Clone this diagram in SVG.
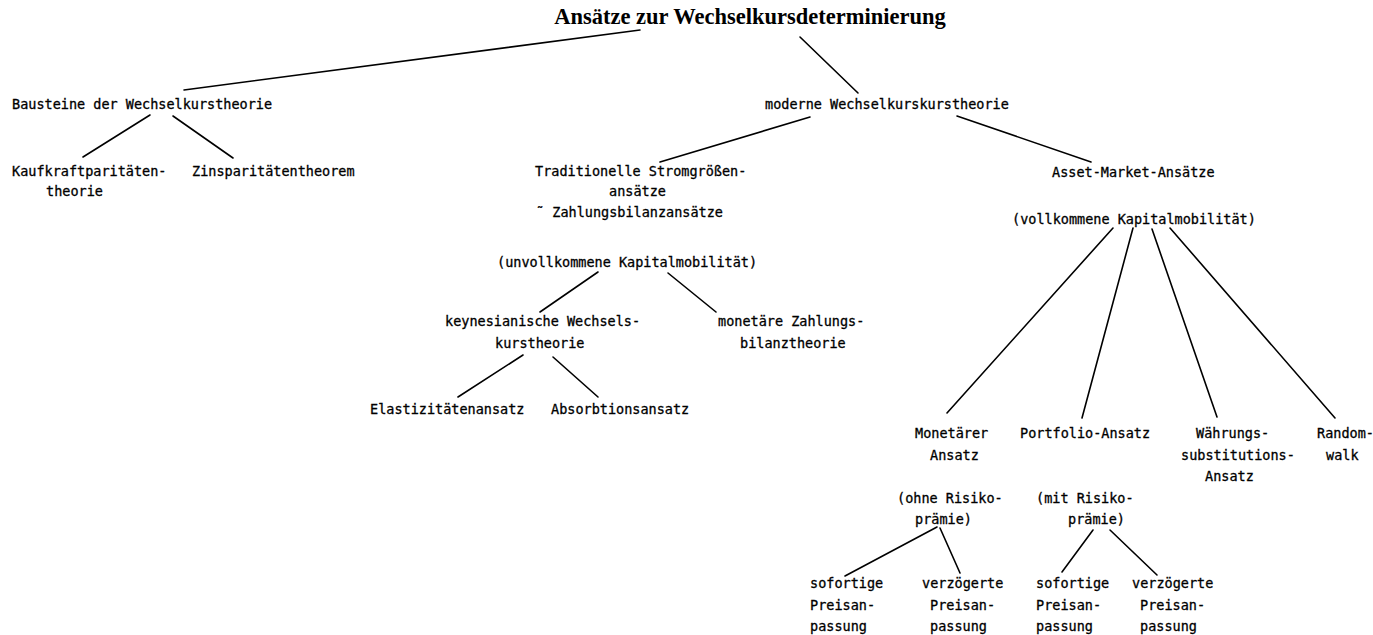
<svg xmlns="http://www.w3.org/2000/svg" width="1373" height="635" viewBox="0 0 1373 635">
<style>
.t{font-family:"DejaVu Sans Mono","Liberation Mono",monospace;font-size:13.5px;fill:#000;stroke:#000;stroke-width:0.3}
.title{font-family:"Liberation Serif","Times New Roman",serif;font-weight:bold;font-size:22.5px;fill:#000}
.c line{stroke:#000;stroke-width:1.6;stroke-linecap:round}
</style>
<rect width="1373" height="635" fill="#fff"/>
<g id="connectors" class="c">
<line x1="640" y1="30" x2="184" y2="90"/>
<line x1="800" y1="37" x2="858" y2="93"/>
<line x1="810" y1="117" x2="660" y2="162"/>
<line x1="957" y1="116" x2="1091" y2="162"/>
<line x1="150" y1="115" x2="83" y2="157"/>
<line x1="173" y1="116" x2="233" y2="158"/>
<line x1="598" y1="272" x2="540" y2="312"/>
<line x1="668" y1="273" x2="716" y2="312"/>
<line x1="523" y1="355" x2="458" y2="397"/>
<line x1="553" y1="357" x2="598" y2="397"/>
<line x1="1113" y1="228" x2="947" y2="413"/>
<line x1="1133" y1="228" x2="1082" y2="418"/>
<line x1="1152" y1="229" x2="1217" y2="417"/>
<line x1="1170" y1="228" x2="1335" y2="418"/>
<line x1="937" y1="527" x2="845" y2="576"/>
<line x1="940" y1="528" x2="960" y2="573"/>
<line x1="1093" y1="530" x2="1062" y2="572"/>
<line x1="1110" y1="530" x2="1157" y2="575"/>
</g>
<g id="root"><text class="title" x="750" y="24" text-anchor="middle">Ansätze zur Wechselkursdeterminierung</text></g>
<g id="bausteine"><text class="t" x="12" y="109">Bausteine der Wechselkurstheorie</text></g>
<g id="moderne"><text class="t" x="765" y="109">moderne Wechselkurskurstheorie</text></g>
<g id="kaufkraft"><text class="t" x="12" y="176">Kaufkraftparitäten-</text><text class="t" x="46" y="196">theorie</text></g>
<g id="zins"><text class="t" x="192" y="176">Zinsparitätentheorem</text></g>
<g id="traditionell">
<text class="t" x="535" y="176">Traditionelle Stromgrößen-</text>
<text class="t" x="609" y="196">ansätze</text>
<text class="t" x="536" y="217">˜ Zahlungsbilanzansätze</text>
<text class="t" x="497" y="267">(unvollkommene Kapitalmobilität)</text>
</g>
<g id="asset">
<text class="t" x="1052" y="177">Asset-Market-Ansätze</text>
<text class="t" x="1012" y="224">(vollkommene Kapitalmobilität)</text>
</g>
<g id="keynes"><text class="t" x="445" y="326">keynesianische Wechsels-</text><text class="t" x="495" y="348">kurstheorie</text></g>
<g id="monetaere-zb"><text class="t" x="718" y="326">monetäre Zahlungs-</text><text class="t" x="740" y="348">bilanztheorie</text></g>
<g id="elastizitaet"><text class="t" x="370" y="414">Elastizitätenansatz</text></g>
<g id="absorbtion"><text class="t" x="551" y="414">Absorbtionsansatz</text></g>
<g id="monetaer">
<text class="t" x="915" y="438">Monetärer</text>
<text class="t" x="930" y="460">Ansatz</text>
<text class="t" x="897" y="503">(ohne Risiko-</text>
<text class="t" x="915" y="524">prämie)</text>
</g>
<g id="portfolio">
<text class="t" x="1020" y="438">Portfolio-Ansatz</text>
<text class="t" x="1036" y="503">(mit Risiko-</text>
<text class="t" x="1068" y="524">prämie)</text>
</g>
<g id="waehrung">
<text class="t" x="1196" y="438">Währungs-</text>
<text class="t" x="1181" y="460">substitutions-</text>
<text class="t" x="1205" y="481">Ansatz</text>
</g>
<g id="random"><text class="t" x="1317" y="438">Random-</text><text class="t" x="1326" y="460">walk</text></g>
<g id="m-sofort"><text class="t" x="810" y="588">sofortige</text><text class="t" x="810" y="610">Preisan-</text><text class="t" x="810" y="631">passung</text></g>
<g id="m-verz"><text class="t" x="922" y="588">verzögerte</text><text class="t" x="930" y="610">Preisan-</text><text class="t" x="930" y="631">passung</text></g>
<g id="p-sofort"><text class="t" x="1036" y="588">sofortige</text><text class="t" x="1036" y="610">Preisan-</text><text class="t" x="1036" y="631">passung</text></g>
<g id="p-verz"><text class="t" x="1132" y="588">verzögerte</text><text class="t" x="1140" y="610">Preisan-</text><text class="t" x="1140" y="631">passung</text></g>
</svg>
